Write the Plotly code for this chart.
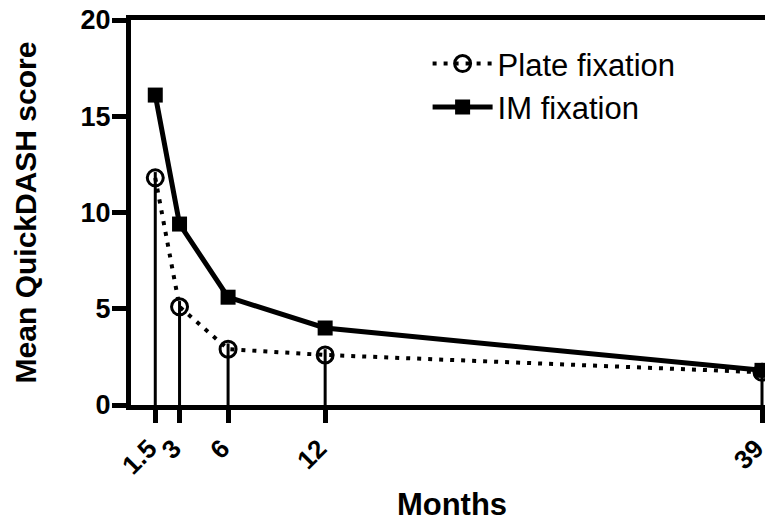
import plotly.graph_objects as go

months = [1.5, 3, 6, 12, 39]
tick_labels = ["1.5", "3", "6", "12", "39"]
plate = [11.8, 5.1, 2.9, 2.6, 1.7]
im = [16.1, 9.4, 5.6, 4.0, 1.8]
y_ticks = [0, 5, 10, 15, 20]

FONT = "Liberation Sans, Arial, sans-serif"

fig = go.Figure()
fig.add_trace(go.Scatter(
    x=months, y=plate, name="Plate fixation", mode="lines+markers",
    line=dict(color="black", width=4, dash="4px,7px"),
    marker=dict(symbol="circle-open", size=16, color="black", line=dict(width=3, color="black")),
    error_y=dict(type="data", symmetric=False, array=[0.3] * 5, arrayminus=plate,
                 color="black", thickness=3, width=0),
    cliponaxis=False,
))
fig.add_trace(go.Scatter(
    x=months, y=im, name="IM fixation", mode="lines+markers",
    line=dict(color="black", width=5),
    marker=dict(symbol="square", size=15, color="black"),
    cliponaxis=False,
))

fig.update_layout(
    width=765, height=516,
    margin=dict(l=123, r=0, t=12, b=119),
    plot_bgcolor="white", paper_bgcolor="white",
    font=dict(family=FONT, color="black"),
    showlegend=True,
    legend=dict(x=0.462, y=0.956, xanchor="left", yanchor="top",
                font=dict(size=31, family=FONT, color="black"),
                bgcolor="rgba(0,0,0,0)", itemwidth=60, tracegroupgap=0),
)
fig.update_xaxes(
    range=[0, 39.68], tickmode="array", tickvals=months, ticktext=tick_labels,
    tickangle=-45, ticks="outside", ticklen=13, tickwidth=5, tickcolor="black",
    showline=True, linewidth=5, linecolor="black", mirror=True,
    showgrid=False, zeroline=False, ticklabeloverflow="allow", automargin=False,
    ticklabelshift=-6,
    tickfont=dict(size=26, family=FONT, weight="bold"),
    title=dict(text="Months", font=dict(size=31, family=FONT, weight="bold"), standoff=16),
)
fig.update_yaxes(
    range=[0, 20], tickvals=y_ticks, ticks="outside", ticklen=14, tickwidth=5, tickcolor="black",
    showline=True, linewidth=5, linecolor="black",
    showgrid=False, zeroline=False, automargin=False, ticklabeloverflow="allow",
    ticklabelstandoff=-4,
    tickfont=dict(size=27, family=FONT, weight="bold"),
    title=dict(text="Mean QuickDASH score", font=dict(size=30, family=FONT, weight="bold"), standoff=37),
)

fig.write_html("out.html")
